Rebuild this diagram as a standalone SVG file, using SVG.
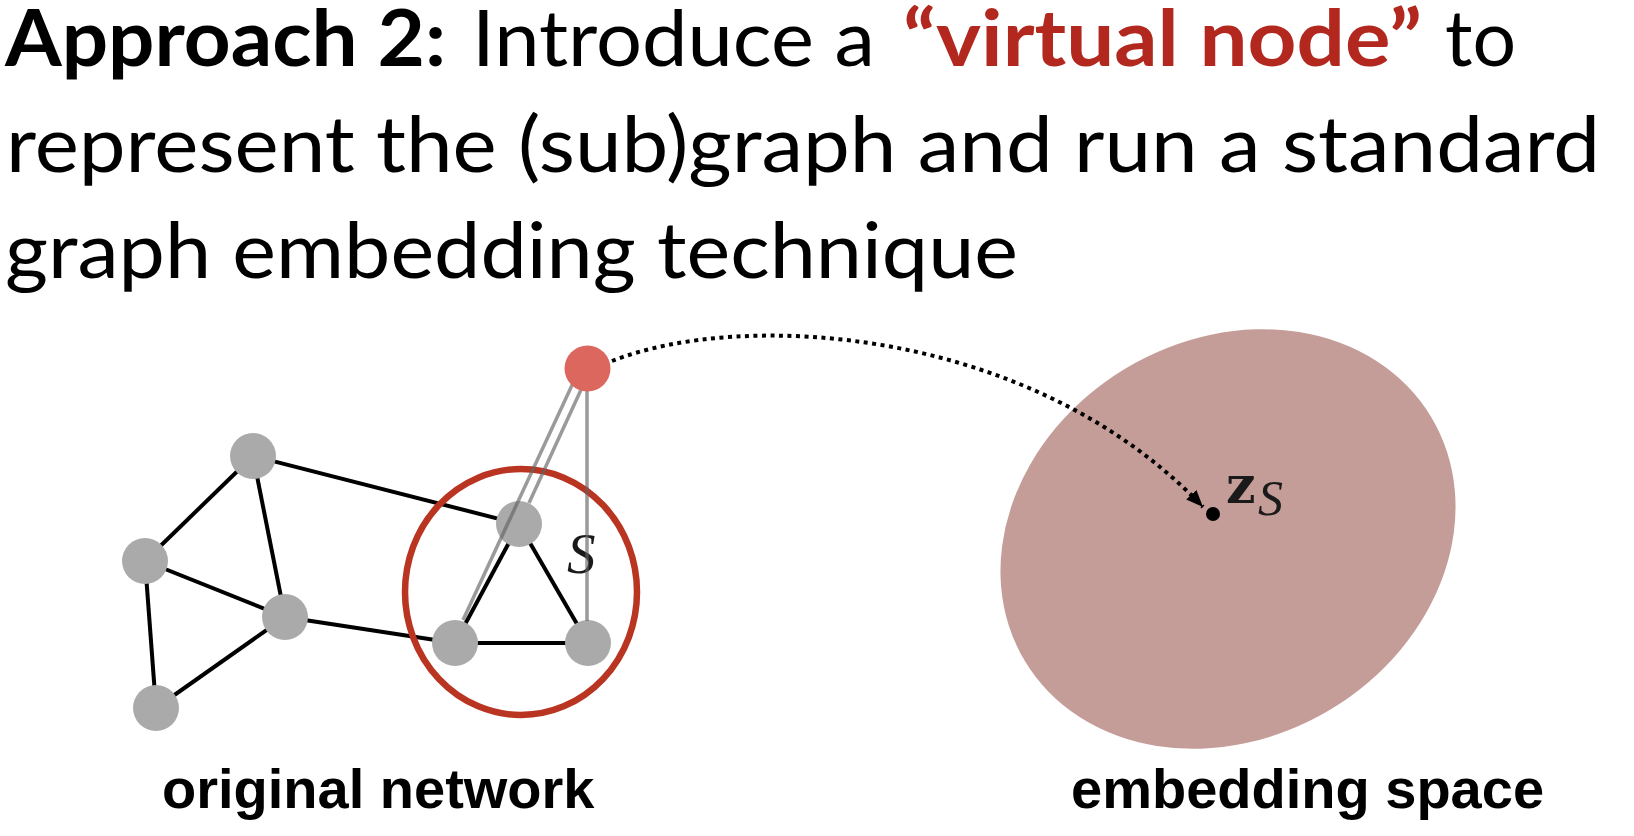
<svg xmlns="http://www.w3.org/2000/svg" width="1634" height="836" viewBox="0 0 1634 836">
<defs>
<style>
.t{font-family:Lato,"Open Sans","Liberation Sans",sans-serif;font-size:78px;fill:#000}
.b{font-weight:bold}
.r{fill:#b2281e}
.edge{stroke:#000;stroke-width:4;fill:none}
.ghost{stroke:rgba(100,100,100,0.65);stroke-width:3.5;fill:none}
.node{fill:#a9aaa9}
.lab{font-family:"Liberation Sans",Arial,sans-serif;font-weight:bold;font-size:56px;fill:#000}
.math{font-family:"Liberation Serif","Times New Roman",serif;font-style:italic;fill:#1a1a1a}
</style>
<marker id="ah" markerUnits="userSpaceOnUse" markerWidth="20" markerHeight="16" refX="17" refY="7" orient="auto">
<path d="M0,0 L17,7 L0,14 z" fill="#000"/>
</marker>
</defs>
<rect width="1634" height="836" fill="#fff"/>

<g id="title">
<text class="t b" x="5" y="66" textLength="441" lengthAdjust="spacingAndGlyphs">Approach 2:</text>
<text class="t" x="472" y="66" textLength="403" lengthAdjust="spacingAndGlyphs">Introduce a</text>
<text class="t b r" x="903" y="66" textLength="519" lengthAdjust="spacingAndGlyphs">“virtual node”</text>
<text class="t" x="1445" y="66" textLength="71" lengthAdjust="spacingAndGlyphs">to</text>
<text class="t" x="6" y="172" textLength="1594" lengthAdjust="spacingAndGlyphs">represent the (sub)graph and run a standard</text>
<text class="t" x="5" y="278" textLength="1013" lengthAdjust="spacingAndGlyphs">graph embedding technique</text>
</g>

<g id="embedding-space">
<ellipse cx="1228" cy="539" rx="237" ry="199" transform="rotate(-31 1228 539)" fill="#c59d98"/>
</g>

<g id="connectors">
<line class="edge" x1="253" y1="456" x2="145" y2="561"/>
<line class="edge" x1="253" y1="456" x2="285" y2="617"/>
<line class="edge" x1="253" y1="456" x2="519" y2="524"/>
<line class="edge" x1="145" y1="561" x2="285" y2="617"/>
<line class="edge" x1="145" y1="561" x2="156" y2="708"/>
<line class="edge" x1="285" y1="617" x2="156" y2="708"/>
<line class="edge" x1="285" y1="617" x2="455" y2="643"/>
<line class="edge" x1="519" y1="524" x2="455" y2="643"/>
<line class="edge" x1="519" y1="524" x2="588" y2="643"/>
<line class="edge" x1="455" y1="643" x2="588" y2="643"/>
</g>

<g id="nodes">
<circle id="n-top" class="node" cx="253" cy="456" r="23"/>
<circle id="n-left" class="node" cx="145" cy="561" r="23"/>
<circle id="n-mid" class="node" cx="285" cy="617" r="23"/>
<circle id="n-bottom" class="node" cx="156" cy="708" r="23"/>
<circle id="n-s-top" class="node" cx="519" cy="524" r="23"/>
<circle id="n-s-left" class="node" cx="455" cy="643" r="23"/>
<circle id="n-s-right" class="node" cx="588" cy="643" r="23"/>
</g>

<g id="subgraph-S">
<ellipse cx="521" cy="592" rx="116" ry="123" fill="none" stroke="#b93521" stroke-width="6.5"/>
<text class="math" x="567" y="573" font-size="57">S</text>
</g>

<g id="virtual-links">
<line class="ghost" x1="580" y1="368" x2="463" y2="620"/>
<line class="ghost" x1="591" y1="368" x2="529" y2="503"/>
<line class="ghost" x1="587" y1="370" x2="587" y2="621"/>
</g>

<g id="virtual-node">
<circle cx="587.5" cy="368.5" r="23" fill="#dc675f"/>
</g>

<g id="mapping">
<path d="M612,361 C740,310 1030,325 1203,507" fill="none" stroke="#000" stroke-width="4" stroke-dasharray="4 4.5" marker-end="url(#ah)"/>
</g>

<g id="z-point">
<circle cx="1213" cy="514" r="7" fill="#000"/>
<text x="1226" y="503" font-family="'DejaVu Serif',serif" font-weight="bold" font-size="52" fill="#1a1a1a">z</text>
<text class="math" x="1258" y="515" font-size="50">S</text>
</g>

<g id="labels">
<text class="lab" x="162" y="808">original network</text>
<text class="lab" x="1071" y="808">embedding space</text>
</g>
</svg>
